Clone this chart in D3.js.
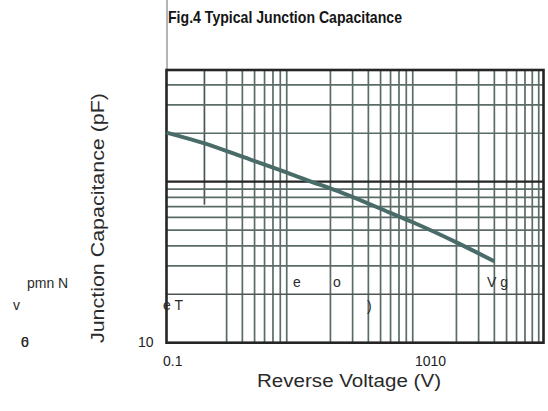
<!DOCTYPE html>
<html>
<head>
<meta charset="utf-8">
<script src="https://cdn.jsdelivr.net/npm/d3@7"></script>
<style>
  body { margin: 0; background: #fff; }
  text { font-family: "Liberation Sans", Arial, sans-serif; }
</style>
</head>
<body>
<svg id="chart" width="548" height="411"></svg>
<script>
// reverse voltage (V) vs junction capacitance (pF)
const voltage = [0.1, 0.2, 0.4, 0.8, 1.4, 2, 6, 9, 20, 40];
const capacitance = [202, 173, 143, 118, 100, 91, 64, 56, 42, 32];

// grid lines (no line at 1 V and 10 V in the original)
const xGrid = [0.3, 0.4, 0.5, 0.6, 0.7, 0.8, 0.9, 2, 3, 4, 5, 6, 7, 8, 9, 20, 30, 40, 50, 60, 70, 80, 90];
const yGrid = [20, 30, 40, 50, 60, 70, 80, 90, 200, 300, 400];
const yHeavy = [100];
const xTickValues = [0.1, 10];
const xTickLabels = ['0.1', '1010'];
const yTickValues = [10];
const yTickLabels = ['10'];

const titleText = 'Fig.4  Typical Junction Capacitance';
const xTitle = 'Reverse  Voltage (V)';
const yTitle = 'Junction Capacitance (pF)';

const svg = d3.select('#chart');

const plotLeft = 166.5, plotRight = 543.5, plotTop = 70, plotBottom = 342.7;

const x = d3.scaleLog().domain([0.1, 100]).range([plotLeft, 544.5]);
const y = d3.scaleLog().domain([10, 500]).range([plotBottom, 69.2]);

const gridColor = '#5b6b68';
const frameColor = '#252525';

// thin line above the frame
svg.append('line')
    .attr('x1', plotLeft + 0.5).attr('x2', plotLeft + 0.5)
    .attr('y1', 0).attr('y2', plotTop)
    .attr('stroke', '#6a6a6a').attr('stroke-width', 1);

const grid = svg.append('g');

grid.selectAll('line.vx')
    .data(xGrid)
    .enter().append('line')
    .attr('class', 'vx')
    .attr('x1', d => x(d)).attr('x2', d => x(d))
    .attr('y1', plotTop).attr('y2', plotBottom)
    .attr('stroke', gridColor).attr('stroke-width', 1.7);

// partial line at 0.2 V
grid.append('line')
    .attr('x1', x(0.2)).attr('x2', x(0.2))
    .attr('y1', plotTop).attr('y2', y(72))
    .attr('stroke', '#4a5553').attr('stroke-width', 1.7);

grid.selectAll('line.hy')
    .data(yGrid)
    .enter().append('line')
    .attr('class', 'hy')
    .attr('x1', plotLeft).attr('x2', plotRight)
    .attr('y1', d => y(d)).attr('y2', d => y(d))
    .attr('stroke', d => d === 20 ? '#4e5654' : gridColor)
    .attr('stroke-width', 1.7);

grid.selectAll('line.heavy')
    .data(yHeavy)
    .enter().append('line')
    .attr('class', 'heavy')
    .attr('x1', plotLeft).attr('x2', plotRight)
    .attr('y1', d => y(d)).attr('y2', d => y(d))
    .attr('stroke', frameColor).attr('stroke-width', 2.2);

// frame
svg.append('rect')
    .attr('x', plotLeft).attr('y', plotTop)
    .attr('width', plotRight - plotLeft).attr('height', plotBottom - plotTop)
    .attr('fill', 'none')
    .attr('stroke', frameColor).attr('stroke-width', 2.6);

// curve
const line = d3.line()
    .x((d, i) => x(voltage[i]))
    .y(d => y(d))
    .curve(d3.curveMonotoneX);

svg.append('path')
    .datum(capacitance)
    .attr('d', line)
    .attr('fill', 'none')
    .attr('stroke', '#4a6c69')
    .attr('stroke-width', 4);

// axes
const xAxis = d3.axisBottom(x)
    .tickValues(xTickValues)
    .tickSize(0)
    .tickPadding(13)
    .tickFormat((d, i) => xTickLabels[i]);

const gx = svg.append('g')
    .attr('transform', `translate(0,${plotBottom})`)
    .call(xAxis);
gx.select('.domain').remove();
gx.selectAll('text')
    .attr('text-anchor', 'start')
    .attr('dx', -4)
    .attr('font-size', 14)
    .attr('fill', '#222')
    .style('font-family', '"Liberation Sans", Arial, sans-serif');

const yAxis = d3.axisLeft(y)
    .tickValues(yTickValues)
    .tickSize(0)
    .tickPadding(13)
    .tickFormat((d, i) => yTickLabels[i]);

const gy = svg.append('g')
    .attr('transform', `translate(${plotLeft},0)`)
    .call(yAxis);
gy.select('.domain').remove();
gy.selectAll('text')
    .attr('font-size', 14)
    .attr('dy', '0.3em')
    .attr('fill', '#222')
    .style('font-family', '"Liberation Sans", Arial, sans-serif');

// titles
svg.append('text')
    .attr('x', 168).attr('y', 23)
    .attr('font-size', 17)
    .attr('font-weight', 'bold')
    .attr('fill', '#151515')
    .attr('textLength', 234)
    .attr('lengthAdjust', 'spacingAndGlyphs')
    .text(titleText);

svg.append('text')
    .attr('x', 257).attr('y', 387)
    .attr('font-size', 17.5)
    .attr('fill', '#2a2a2a')
    .attr('textLength', 184)
    .attr('lengthAdjust', 'spacingAndGlyphs')
    .text(xTitle);

svg.append('text')
    .attr('transform', 'translate(104,218) rotate(-90)')
    .attr('text-anchor', 'middle')
    .attr('font-size', 18)
    .attr('fill', '#2a2a2a')
    .attr('textLength', 250)
    .attr('lengthAdjust', 'spacingAndGlyphs')
    .text(yTitle);

// stray glyphs left over in the scanned figure
const stray = [
    { t: 'pmn N', x: 27, y: 288 },
    { t: 'v', x: 13, y: 310 },
    { t: '6', x: 21, y: 347 },
    { t: '0', x: 21, y: 347 },
    { t: 'e T', x: 163, y: 310 },
    { t: 'e', x: 293, y: 287 },
    { t: 'o', x: 333, y: 287 },
    { t: ')', x: 367, y: 311 },
    { t: 'V g', x: 487, y: 287 }
];
svg.append('g').selectAll('text')
    .data(stray)
    .enter().append('text')
    .attr('x', d => d.x).attr('y', d => d.y)
    .attr('font-size', 14)
    .attr('fill', '#2a2a2a')
    .text(d => d.t);
</script>
</body>
</html>
